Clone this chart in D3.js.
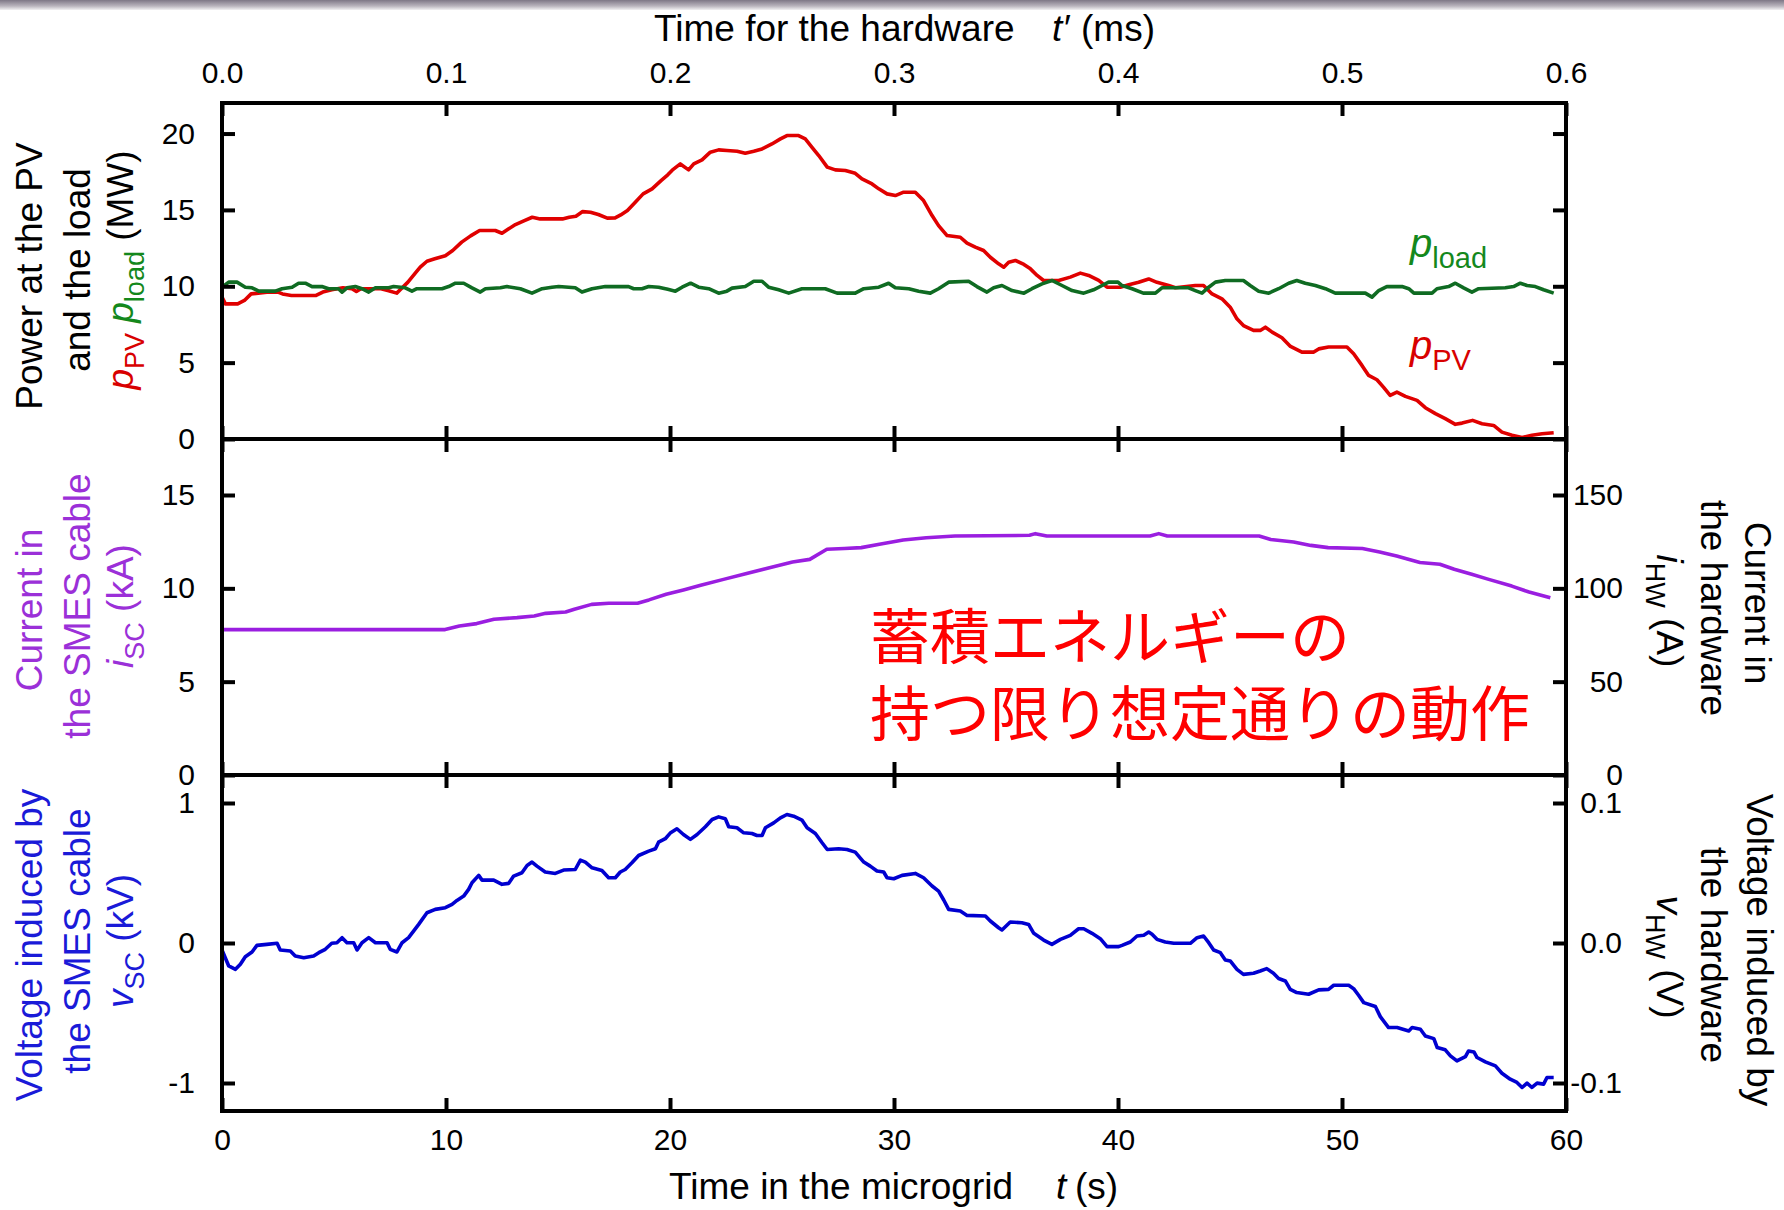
<!DOCTYPE html>
<html><head><meta charset="utf-8">
<script src="https://cdn.jsdelivr.net/npm/d3@7"></script>
<style>
body{margin:0;background:#fff}
svg{display:block}
text{font-family:"Liberation Sans", Arial, Helvetica, sans-serif}
</style>
</head><body>
<svg id="c" width="1784" height="1210"></svg>
<script>
// ---------------- data (t in s) ----------------
const pPV = [[0,9.3],[0.15,8.85],[0.7,8.85],[1.0,9.07],[1.3,9.5],[2.1,9.62],[2.5,9.62],[2.7,9.5],[3.1,9.4],[4.2,9.4],[4.5,9.62],[4.9,9.77],[5.4,9.9],[5.8,9.84],[6.0,9.66],[6.2,9.84],[7.1,9.84],[7.4,9.72],[7.8,9.55],[8.0,9.84],[8.3,10.27],[8.6,10.81],[8.85,11.25],[9.15,11.64],[9.5,11.8],[9.97,12.0],[10.3,12.34],[10.7,12.89],[11.1,13.3],[11.5,13.65],[12.2,13.65],[12.5,13.47],[12.8,13.76],[13.1,14.04],[13.5,14.3],[13.85,14.52],[14.2,14.41],[15.2,14.41],[15.5,14.52],[15.8,14.59],[16.1,14.89],[16.45,14.85],[16.8,14.7],[17.2,14.46],[17.55,14.48],[17.8,14.67],[18.1,14.96],[18.45,15.5],[18.8,16.05],[19.2,16.38],[19.6,16.92],[19.9,17.3],[20.1,17.6],[20.46,18.01],[20.83,17.62],[21.06,18.01],[21.43,18.28],[21.8,18.78],[22.17,18.93],[22.54,18.89],[23.0,18.84],[23.36,18.71],[23.74,18.84],[24.11,18.99],[24.55,19.32],[24.93,19.65],[25.22,19.87],[25.74,19.87],[26.04,19.65],[26.34,19.1],[26.64,18.56],[27.02,17.8],[27.38,17.62],[27.83,17.58],[28.27,17.4],[28.57,17.03],[29.02,16.7],[29.32,16.38],[29.69,16.05],[30.06,15.94],[30.43,16.16],[30.95,16.16],[31.32,15.61],[31.7,14.63],[31.99,13.97],[32.37,13.32],[32.96,13.21],[33.26,12.82],[33.63,12.56],[34.0,12.34],[34.3,11.9],[34.67,11.47],[34.9,11.25],[35.12,11.58],[35.42,11.69],[35.8,11.43],[36.09,11.14],[36.39,10.71],[36.68,10.38],[37.35,10.38],[37.87,10.6],[38.32,10.86],[38.69,10.71],[39.14,10.38],[39.51,9.94],[40.1,9.94],[40.48,10.1],[40.92,10.26],[41.37,10.48],[41.74,10.26],[42.26,10.05],[42.56,9.9],[43.45,10.05],[43.82,10.05],[44.2,9.5],[44.64,9.18],[45.01,8.63],[45.31,7.87],[45.6,7.43],[46.05,7.11],[46.35,7.11],[46.58,7.32],[46.88,7.0],[47.32,6.63],[47.7,6.06],[48.21,5.69],[48.74,5.69],[48.96,5.9],[49.4,6.02],[50.22,6.02],[50.52,5.58],[50.89,4.82],[51.19,4.16],[51.56,3.88],[51.85,3.4],[52.15,2.86],[52.45,3.07],[52.83,2.79],[53.35,2.53],[53.72,2.05],[54.17,1.66],[54.61,1.33],[55.06,0.96],[55.36,1.04],[55.83,1.22],[56.25,1.0],[56.77,0.89],[57.14,0.45],[57.59,0.24],[58.04,0.1],[58.48,0.24],[58.93,0.34],[59.45,0.41]];

const pLoad = [[0,9.94],[0.3,10.27],[0.67,10.27],[1.04,9.94],[1.34,9.9],[1.64,9.68],[2.38,9.68],[2.68,9.84],[3.13,9.94],[3.42,10.2],[3.72,10.2],[4.02,9.98],[4.46,9.98],[4.76,9.84],[5.2,9.84],[5.36,9.62],[5.58,9.9],[5.95,9.98],[6.25,9.84],[6.55,9.62],[6.85,9.9],[7.44,9.9],[7.66,9.98],[8.18,9.9],[8.48,9.68],[8.7,9.84],[9.82,9.84],[10.12,9.98],[10.42,10.2],[10.79,10.2],[11.16,9.9],[11.53,9.62],[11.76,9.84],[12.43,9.9],[12.72,9.98],[13.32,9.84],[13.84,9.55],[14.29,9.84],[14.73,9.94],[15.03,9.98],[15.77,9.9],[16.07,9.62],[16.52,9.84],[17.11,9.98],[18.15,9.98],[18.38,9.84],[18.75,9.84],[19.05,9.98],[19.49,9.94],[19.9,9.8],[20.24,9.68],[20.54,9.94],[20.92,10.2],[21.28,9.94],[21.73,9.84],[22.17,9.55],[22.54,9.68],[22.77,9.88],[23.36,9.98],[23.74,10.33],[24.11,10.33],[24.4,9.94],[24.85,9.77],[25.3,9.55],[25.89,9.84],[26.93,9.84],[27.46,9.55],[28.27,9.55],[28.65,9.84],[29.32,9.94],[29.76,10.2],[30.06,9.9],[30.66,9.84],[31.1,9.68],[31.62,9.55],[31.99,9.84],[32.44,10.27],[33.33,10.33],[33.7,9.98],[34.15,9.62],[34.45,9.9],[34.82,10.05],[35.27,9.72],[35.8,9.55],[36.16,9.84],[36.61,10.16],[37.05,10.38],[37.5,10.05],[37.95,9.72],[38.47,9.55],[38.91,9.77],[39.29,10.05],[39.58,10.27],[40.0,10.27],[40.18,10.05],[40.63,9.84],[41.13,9.55],[41.67,9.55],[41.96,9.9],[43.15,9.9],[43.45,9.72],[43.75,9.55],[44.05,9.94],[44.35,10.27],[44.79,10.38],[45.6,10.38],[45.9,10.05],[46.28,9.68],[46.73,9.55],[47.17,9.84],[47.62,10.2],[47.98,10.38],[48.36,10.2],[48.81,10.05],[49.26,9.84],[49.7,9.55],[51.04,9.55],[51.34,9.29],[51.64,9.72],[52.0,9.98],[52.68,9.98],[52.98,9.84],[53.21,9.55],[54.02,9.55],[54.24,9.84],[54.76,9.98],[55.06,10.2],[55.43,9.9],[55.8,9.62],[56.1,9.84],[57.29,9.9],[57.66,9.98],[57.96,10.2],[58.26,10.05],[58.63,9.98],[59.0,9.77],[59.45,9.55]];

const iSC = [[0,7.79],[9.96,7.79],[10.6,7.98],[11.37,8.11],[12.14,8.34],[13.17,8.43],[13.94,8.52],[14.45,8.66],[15.34,8.73],[15.73,8.88],[16.5,9.14],[17.27,9.2],[18.55,9.2],[19.06,9.38],[19.83,9.68],[20.6,9.91],[21.37,10.16],[22.39,10.48],[23.42,10.8],[24.44,11.1],[25.47,11.41],[26.24,11.55],[27.0,12.09],[27.78,12.13],[28.54,12.18],[29.35,12.36],[30.41,12.59],[31.44,12.71],[32.72,12.8],[36.05,12.84],[36.31,12.93],[36.82,12.8],[41.43,12.8],[41.82,12.93],[42.2,12.8],[46.3,12.8],[46.82,12.62],[47.84,12.48],[48.61,12.3],[49.38,12.18],[50.91,12.13],[51.68,11.95],[52.44,11.73],[53.48,11.38],[54.37,11.29],[55.01,11.02],[55.79,10.75],[56.55,10.48],[57.58,10.12],[58.35,9.8],[59.3,9.5]];

const vSC = [[0,-0.05],[0.3,-0.164],[0.6,-0.188],[0.82,-0.152],[1.04,-0.098],[1.34,-0.064],[1.56,-0.017],[2.0,-0.01],[2.46,-0.002],[2.6,-0.05],[3.05,-0.057],[3.27,-0.093],[3.65,-0.105],[4.09,-0.093],[4.32,-0.069],[4.61,-0.045],[4.9,-0.002],[5.13,0.002],[5.36,0.038],[5.58,0.002],[5.88,0.002],[6.03,-0.05],[6.25,0.002],[6.55,0.038],[6.85,0.002],[7.37,0.002],[7.51,-0.045],[7.81,-0.064],[8.04,0.002],[8.33,0.038],[8.56,0.086],[8.78,0.133],[9.15,0.216],[9.52,0.24],[9.97,0.252],[10.27,0.276],[10.49,0.304],[10.79,0.335],[11.01,0.383],[11.16,0.43],[11.46,0.483],[11.61,0.449],[12.13,0.449],[12.5,0.419],[12.8,0.426],[13.02,0.478],[13.39,0.502],[13.62,0.554],[13.84,0.578],[14.06,0.549],[14.43,0.507],[14.88,0.497],[15.25,0.521],[15.77,0.525],[16.0,0.592],[16.22,0.578],[16.52,0.537],[16.96,0.518],[17.26,0.466],[17.56,0.466],[17.78,0.507],[18.0,0.525],[18.3,0.573],[18.6,0.625],[19.05,0.656],[19.35,0.673],[19.49,0.72],[19.79,0.745],[20.01,0.785],[20.31,0.816],[20.6,0.775],[20.91,0.74],[21.21,0.775],[21.58,0.83],[21.88,0.882],[22.17,0.901],[22.47,0.887],[22.62,0.83],[22.99,0.823],[23.29,0.787],[23.66,0.782],[23.88,0.768],[24.11,0.768],[24.26,0.823],[24.63,0.858],[24.93,0.894],[25.22,0.918],[25.52,0.906],[25.89,0.878],[26.12,0.823],[26.49,0.782],[26.79,0.716],[27.02,0.668],[27.53,0.673],[27.9,0.668],[28.27,0.649],[28.65,0.578],[28.94,0.549],[29.24,0.514],[29.54,0.507],[29.69,0.466],[29.99,0.459],[30.36,0.483],[30.95,0.497],[31.32,0.466],[31.7,0.407],[31.99,0.371],[32.22,0.307],[32.44,0.24],[32.96,0.228],[33.26,0.197],[34.08,0.193],[34.3,0.157],[34.67,0.109],[34.82,0.093],[35.19,0.15],[35.71,0.145],[36.01,0.133],[36.24,0.069],[36.68,0.021],[37.05,-0.01],[37.43,0.026],[37.87,0.055],[38.24,0.102],[38.47,0.102],[38.84,0.069],[39.21,0.031],[39.51,-0.026],[40.03,-0.026],[40.18,-0.017],[40.55,0.007],[40.85,0.05],[41.15,0.055],[41.37,0.078],[41.52,0.062],[41.74,0.026],[42.11,0.007],[42.49,-0.002],[43.23,-0.002],[43.53,0.038],[43.82,0.05],[44.05,0.002],[44.27,-0.05],[44.57,-0.069],[44.79,-0.121],[45.01,-0.128],[45.31,-0.188],[45.6,-0.224],[46.05,-0.216],[46.35,-0.2],[46.64,-0.183],[46.94,-0.216],[47.17,-0.254],[47.47,-0.271],[47.69,-0.331],[47.98,-0.354],[48.51,-0.366],[48.96,-0.335],[49.4,-0.331],[49.63,-0.302],[50.3,-0.302],[50.52,-0.326],[50.74,-0.373],[50.97,-0.426],[51.49,-0.454],[51.71,-0.526],[52.08,-0.604],[52.46,-0.604],[52.98,-0.628],[53.13,-0.604],[53.5,-0.616],[53.72,-0.664],[54.1,-0.683],[54.25,-0.747],[54.61,-0.763],[54.84,-0.806],[55.13,-0.842],[55.51,-0.811],[55.65,-0.771],[55.89,-0.778],[56.03,-0.818],[56.4,-0.849],[56.85,-0.878],[57.14,-0.93],[57.51,-0.973],[57.81,-0.996],[58.04,-1.032],[58.26,-1.001],[58.48,-1.032],[58.71,-1.001],[59.0,-1.008],[59.15,-0.961],[59.45,-0.961]];

// tick values / labels
const tTicks = [0,10,20,30,40,50,60];
const msTicks = [0,0.1,0.2,0.3,0.4,0.5,0.6];
const pTicks = [0,5,10,15,20];
const iTicks = [0,5,10,15];
const iHWTicks = [0,50,100,150];
const vTicks = [-1,0,1];
const vHWTicks = [-0.1,0,0.1];

// ---------------- layout ----------------
const svg = d3.select('#c');
const X0 = 222, X1 = 1566;
const P1 = [103,439], P2 = [439,775], P3 = [775,1111];
const TICK = 13, FS = 30;

const COL = {pv:'#e00000', pvT:'#d80000', load:'#0f6b22', loadT:'#14881c',
             i:'#9a1ee0', iT:'#9b30d8', v:'#0000d0', vT:'#1a1ad8'};

// top grey band
const defs = svg.append('defs');
const g0 = defs.append('linearGradient').attr('id','band').attr('x1',0).attr('x2',0).attr('y1',0).attr('y2',1);
g0.append('stop').attr('offset',0).attr('stop-color','#7e7786');
g0.append('stop').attr('offset',0.6).attr('stop-color','#b9b4bd');
g0.append('stop').attr('offset',1).attr('stop-color','#f2f1f3');
svg.append('rect').attr('x',0).attr('y',0).attr('width',1784).attr('height',10).attr('fill','url(#band)');

const x = d3.scaleLinear().domain([0,60]).range([X0,X1]);
const xms = d3.scaleLinear().domain([0,0.6]).range([X0,X1]);
const y1 = d3.scaleLinear().domain([0,22]).range([P1[1],P1[0]]);
const y2 = d3.scaleLinear().domain([0,18]).range([P2[1],P2[0]]);
const y2r = d3.scaleLinear().domain([0,180]).range([P2[1],P2[0]]);
const y3 = d3.scaleLinear().domain([-1.2,1.2]).range([P3[1],P3[0]]);
const y3r = d3.scaleLinear().domain([-0.12,0.12]).range([P3[1],P3[0]]);

function line(ys){ return d3.line().x(d=>x(d[0])).y(d=>ys(d[1])); }
function drawLine(data, ys, col){
  svg.append('path').datum(data).attr('d', line(ys)).attr('fill','none')
    .attr('stroke',col).attr('stroke-width',3.6).attr('stroke-linejoin','round').attr('stroke-linecap','butt');
}
drawLine(pPV, y1, COL.pv);
drawLine(pLoad, y1, COL.load);
drawLine(iSC, y2, COL.i);
drawLine(vSC, y3, COL.v);

// axes helper
function styleAxis(g){
  g.select('.domain').remove();
  g.selectAll('.tick line').attr('stroke','#000').attr('stroke-width',4);
  g.selectAll('.tick text').attr('fill','#000').attr('font-size',FS)
    .attr('font-family','"Liberation Sans", Arial, sans-serif');
}
function addAxis(axis, tx, ty){
  const g = svg.append('g').attr('transform',`translate(${tx},${ty})`).call(axis);
  styleAxis(g);
  return g;
}
const none = () => '';
// horizontal tick rows
addAxis(d3.axisTop(xms).tickValues(msTicks).tickSize(-TICK).tickPadding(20).tickFormat(d=>d.toFixed(1)), 0, P1[0]);
addAxis(d3.axisBottom(x).tickValues(tTicks).tickSize(-TICK).tickFormat(none), 0, P1[1]);
addAxis(d3.axisTop(x).tickValues(tTicks).tickSize(-TICK).tickFormat(none), 0, P2[0]);
addAxis(d3.axisBottom(x).tickValues(tTicks).tickSize(-TICK).tickFormat(none), 0, P2[1]);
addAxis(d3.axisTop(x).tickValues(tTicks).tickSize(-TICK).tickFormat(none), 0, P3[0]);
addAxis(d3.axisBottom(x).tickValues(tTicks).tickSize(-TICK).tickPadding(18).tickFormat(d=>String(d)), 0, P3[1]);
// vertical tick rows
addAxis(d3.axisLeft(y1).tickValues(pTicks).tickSize(-TICK).tickPadding(27).tickFormat(d=>String(d)), X0, 0);
addAxis(d3.axisRight(y1).tickValues(pTicks).tickSize(-TICK).tickFormat(none), X1, 0);
addAxis(d3.axisLeft(y2).tickValues(iTicks).tickSize(-TICK).tickPadding(27).tickFormat(d=>String(d)), X0, 0);
const r2 = addAxis(d3.axisRight(y2r).tickValues(iHWTicks).tickSize(-TICK).tickFormat(d=>String(d)), X1, 0);
r2.selectAll('.tick text').attr('text-anchor','end').attr('x',57);
addAxis(d3.axisLeft(y3).tickValues(vTicks).tickSize(-TICK).tickPadding(27).tickFormat(d=>String(d)), X0, 0);
const r3 = addAxis(d3.axisRight(y3r).tickValues(vHWTicks).tickSize(-TICK).tickFormat(d=>d.toFixed(1)), X1, 0);
r3.selectAll('.tick text').attr('text-anchor','end').attr('x',56);

// frames
[P1,P2,P3].forEach(p=>{
  svg.append('rect').attr('x',X0).attr('y',p[0]).attr('width',X1-X0).attr('height',p[1]-p[0])
    .attr('fill','none').attr('stroke','#000').attr('stroke-width',4);
});

// ---------------- texts ----------------
const TF = 37, SF = 27, SD = 11;
function txt(parent, x, y, rot, anchor){
  const t = parent.append('text').attr('transform',`translate(${x},${y}) rotate(${rot})`)
    .attr('text-anchor',anchor).attr('font-size',TF).attr('fill','#000');
  return t;
}
function sp(t, s, o){ const e=t.append('tspan').text(s); if(o) Object.entries(o).forEach(([k,v])=>e.attr(k,v)); return e; }

// top title
const tt = svg.append('text').attr('x',654).attr('y',41).attr('font-size',TF).attr('fill','#000');
sp(tt,'Time for the hardware');
sp(tt,'t′',{x:1052,'font-style':'italic'});
sp(tt,'(ms)',{x:1081});
// bottom title
const bt = svg.append('text').attr('x',669).attr('y',1199).attr('font-size',TF).attr('fill','#000');
sp(bt,'Time in the microgrid');
sp(bt,'t',{x:1056,'font-style':'italic'});
sp(bt,'(s)',{x:1075});

// left titles
let t;
t = txt(svg, 42, 276, -90, 'middle'); sp(t,'Power at the PV');
t = txt(svg, 90, 270, -90, 'middle'); sp(t,'and the load');
t = txt(svg, 133, 270, -90, 'middle');
sp(t,'p',{'font-style':'italic',fill:COL.pvT}); sp(t,'PV',{'font-size':SF,dy:SD,fill:COL.pvT});
sp(t,' ',{dy:-SD}); sp(t,'p',{'font-style':'italic',fill:COL.loadT}); sp(t,'load',{'font-size':SF,dy:SD,fill:COL.loadT});
sp(t,' (MW)',{dy:-SD});

t = txt(svg, 42, 610, -90, 'middle').attr('fill',COL.iT); sp(t,'Current in');
t = txt(svg, 90, 606, -90, 'middle').attr('fill',COL.iT); sp(t,'the SMES cable');
t = txt(svg, 133, 606, -90, 'middle').attr('fill',COL.iT);
sp(t,'i',{'font-style':'italic'}); sp(t,'SC',{'font-size':SF,dy:SD}); sp(t,' (kA)',{dy:-SD});

t = txt(svg, 42, 945, -90, 'middle').attr('fill',COL.vT); sp(t,'Voltage induced by');
t = txt(svg, 90, 941, -90, 'middle').attr('fill',COL.vT); sp(t,'the SMES cable');
t = txt(svg, 133, 941, -90, 'middle').attr('fill',COL.vT);
sp(t,'v',{'font-style':'italic'}); sp(t,'SC',{'font-size':SF,dy:SD}); sp(t,' (kV)',{dy:-SD});

// right titles
t = txt(svg, 1745, 603, 90, 'middle'); sp(t,'Current in');
t = txt(svg, 1701, 608, 90, 'middle'); sp(t,'the hardware');
t = txt(svg, 1657, 611, 90, 'middle');
sp(t,'i',{'font-style':'italic'}); sp(t,'HW',{'font-size':SF,dy:SD}); sp(t,' (A)',{dy:-SD});

t = txt(svg, 1747, 950, 90, 'middle'); sp(t,'Voltage induced by');
t = txt(svg, 1701, 955, 90, 'middle'); sp(t,'the hardware');
t = txt(svg, 1657, 957, 90, 'middle');
sp(t,'v',{'font-style':'italic'}); sp(t,'HW',{'font-size':SF,dy:SD}); sp(t,' (V)',{dy:-SD});

// in-plot series labels
t = svg.append('text').attr('x',1410).attr('y',257).attr('font-size',40).attr('fill',COL.loadT);
sp(t,'p',{'font-style':'italic'}); sp(t,'load',{'font-size':29,dy:11});
t = svg.append('text').attr('x',1410).attr('y',359).attr('font-size',40).attr('fill',COL.pvT);
sp(t,'p',{'font-style':'italic'}); sp(t,'PV',{'font-size':29,dy:11});

// Japanese annotation
const jp = svg.append('g').attr('fill','#ff0000').attr('font-size',60)
  .attr('font-family','"Noto Sans CJK JP", "Noto Sans CJK SC", sans-serif');
jp.append('text').attr('x',870).attr('y',659).style('font-family','"Noto Sans CJK JP", sans-serif').text('蓄積エネルギーの');
jp.append('text').attr('x',870).attr('y',736).style('font-family','"Noto Sans CJK JP", sans-serif').text('持つ限り想定通りの動作');
</script>
</body></html>
